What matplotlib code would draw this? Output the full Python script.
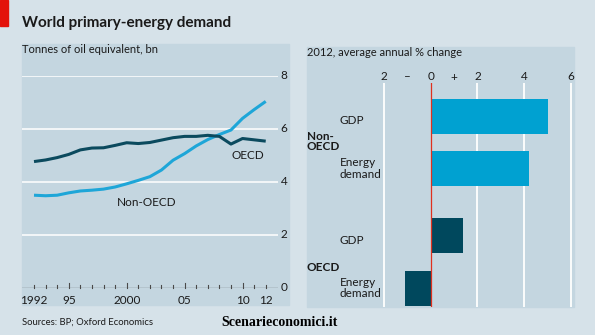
import matplotlib
matplotlib.use("Agg")
import matplotlib.pyplot as plt
from matplotlib.patches import Rectangle
from matplotlib.transforms import Affine2D

# ---- data ----
years = list(range(1992, 2013))
oecd = [4.76, 4.82, 4.91, 5.03, 5.20, 5.27, 5.28, 5.37, 5.47, 5.44, 5.48,
        5.57, 5.66, 5.71, 5.71, 5.75, 5.71, 5.42, 5.63, 5.58, 5.53]
non_oecd = [3.49, 3.47, 3.49, 3.58, 3.65, 3.68, 3.72, 3.80, 3.92, 4.05, 4.19,
            4.44, 4.81, 5.06, 5.35, 5.59, 5.78, 5.95, 6.39, 6.72, 7.03]
year_ticks = [1992, 1995, 2000, 2005, 2010, 2012]
year_labels = ["1992", "95", "2000", "05", "10", "12"]
left_yticks = [0, 2, 4, 6, 8]

bar_groups = ["Non-\nOECD", "OECD"]
bar_items = ["GDP", "Energy\ndemand", "GDP", "Energy\ndemand"]
bar_values = [5.0, 4.2, 1.4, -1.1]
bar_group_of = [0, 0, 1, 1]
right_xticks = [-2, -1, 0, 1, 2, 4, 6]
right_xlabels = ["2", "\u2013", "0", "+", "2", "4", "6"]

# ---- style ----
W, H, DPI = 595, 335, 100
FIG_BG = "#d6e2e9"
PANEL_BG = "#c4d6e0"
DARK = "#0b4a5e"
LIGHT = "#1ea6d8"
BAR_LIGHT = "#00a1d1"
BAR_DARK = "#00485d"
RED = "#e3120b"
TXT = "#1a1a1a"
FONT = "Lato"

plt.rcParams["font.family"] = [FONT, "DejaVu Sans"]

fig = plt.figure(figsize=(W / DPI, H / DPI), dpi=DPI, facecolor=FIG_BG)

# transform in pixel units, origin at top-left
px = Affine2D().scale(1 / W, -1 / H).translate(0, 1) + fig.transFigure


def fbox(x0, y0, x1, y1):
    """Figure-fraction box [left, bottom, width, height] from top-left pixels."""
    return [x0 / W, 1 - y1 / H, (x1 - x0) / W, (y1 - y0) / H]


# red tag and title
fig.patches.append(Rectangle((0, 0), 8, 26, transform=px, color=RED, zorder=-1))
fig.text(22, 26.5, "World primary-energy demand", transform=px, fontsize=11,
         fontweight="bold", color=TXT, va="baseline", ha="left")

# panel backgrounds
fig.patches.append(Rectangle((22, 44), 267, 261, transform=px, color=PANEL_BG, zorder=-1))
fig.patches.append(Rectangle((306.6, 46.7), 267.1, 260.3, transform=px, color=PANEL_BG, zorder=-1))

fig.text(22.5, 53, "Tonnes of oil equivalent, bn", transform=px, fontsize=8,
         color=TXT, va="baseline", ha="left")
fig.text(306.7, 55.5, "2012, average annual % change", transform=px, fontsize=8,
         color=TXT, va="baseline", ha="left")

# ---- left: line chart ----
axL = fig.add_axes(fbox(22, 75.7, 278, 287.7))
axL.set_facecolor("none")
axL.set_xlim(1990.964, 2013.06)
axL.set_ylim(0, 8)
for s in axL.spines.values():
    s.set_visible(False)
axL.set_xticks([])
axL.set_yticks([])
for v in left_yticks[1:]:
    axL.axhline(v, color="white", lw=1.1, zorder=1)
axL.axhline(0, color="#4a4a4a", lw=0.9, zorder=2)
for y in years:
    tall = y in (1995, 2000, 2005, 2010)
    axL.plot([y, y], [0, 0.19 if tall else 0.12], color="#4a4a4a", lw=0.8,
             zorder=2, clip_on=False)

axL.plot(years, non_oecd, color=LIGHT, lw=2.2, solid_capstyle="butt", zorder=3,
         clip_on=False)
axL.plot(years, oecd, color=DARK, lw=2.2, solid_capstyle="butt", zorder=4,
         clip_on=False)

for v in left_yticks:
    axL.text(1.0, v, f" {v}", transform=axL.get_yaxis_transform(), fontsize=8.5,
             color=TXT, va="center", ha="left")
for t, lab in zip(year_ticks, year_labels):
    fig.text(axL.transData.transform((t, 0))[0] / fig.dpi / fig.get_figwidth(),
             1 - 300.5 / H, lab, fontsize=8.5, color=TXT, va="center", ha="center")

axL.text(2010.5, 4.97, "OECD", fontsize=8.5, color=TXT, ha="center", va="center")
axL.text(2001.75, 3.23, "Non-OECD", fontsize=8.5, color=TXT, ha="center", va="center")

# ---- right: bar chart ----
axR = fig.add_axes(fbox(306.6, 83, 573.7, 307))
axR.set_facecolor("none")
axR.set_xlim(-5.30, 6.11)
positions = [0, 1, 2.27, 3.27]
axR.set_ylim(3.629, -0.638)
for s in axR.spines.values():
    s.set_visible(False)
axR.set_xticks([])
axR.set_yticks([])
for v in (-2, 2, 4, 6):
    axR.axvline(v, color="white", lw=1.3, zorder=1)
colors = [BAR_LIGHT if g == 0 else BAR_DARK for g in bar_group_of]
axR.barh(positions, bar_values, height=0.667, color=colors, zorder=2)
axR.axvline(0, color="#e0301e", lw=0.9, zorder=3)

for v, lab in zip(right_xticks, right_xlabels):
    xf = axR.transData.transform((v, 0))[0] / fig.dpi / fig.get_figwidth()
    fig.text(xf, 1 - 77 / H, lab, fontsize=8.5, color=TXT, ha="center", va="center")

item_y = [121, 168.5, 241, 288]
for lab, y in zip(bar_items, item_y):
    fig.text(340, y, lab, transform=px, fontsize=8.5, color=TXT, ha="left",
             va="center", linespacing=1.0)
group_y = [141.5, 267.5]
for lab, y in zip(bar_groups, group_y):
    fig.text(306.7, y, lab, transform=px, fontsize=8.5, fontweight="bold", color=TXT,
             ha="left", va="center", linespacing=1.0)

# ---- footer ----
fig.text(22.5, 322, "Sources: BP; Oxford Economics", transform=px, fontsize=6.8,
         color=TXT, ha="left", va="center")
fig.text(221, 322.7, "Scenarieconomici.it", transform=px, fontsize=10,
         fontweight="bold", family="Liberation Serif", color="black",
         ha="left", va="center")

fig.savefig("out.png", dpi=DPI, facecolor=FIG_BG)
